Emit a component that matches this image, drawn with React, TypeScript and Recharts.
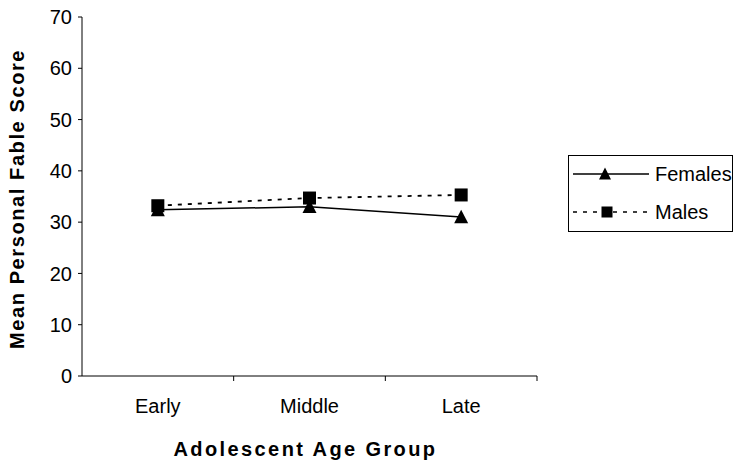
import { LineChart, Line, XAxis, YAxis } from 'recharts';

const ageGroups = ['Early', 'Middle', 'Late'];
const females = [32.4, 33.0, 31.0];
const males = [33.2, 34.7, 35.3];
const yTicks = [0, 10, 20, 30, 40, 50, 60, 70];
const seriesNames = ['Females', 'Males'];

const data = ageGroups.map((g, i) => ({ group: g, Females: females[i], Males: males[i] }));

const FONT = '"Liberation Sans", Arial, sans-serif';
const W = 742;
const H = 466;
const PLOT_LEFT = 82;
const PLOT_RIGHT = 537;
const BAND = (PLOT_RIGHT - PLOT_LEFT) / ageGroups.length;

function Triangle({ cx, cy, size = 14 }: { cx?: number; cy?: number; size?: number }) {
  if (cx == null || cy == null) return null;
  const h = size * 0.9;
  return (
    <path
      d={`M${cx},${cy - h / 2 - 1} L${cx + size / 2},${cy + h / 2} L${cx - size / 2},${cy + h / 2} Z`}
      fill="#000"
    />
  );
}

function Square({ cx, cy, size = 13 }: { cx?: number; cy?: number; size?: number }) {
  if (cx == null || cy == null) return null;
  return <rect x={cx - size / 2} y={cy - size / 2} width={size} height={size} fill="#000" />;
}

// category tick: label centred under the point, tick mark at the band edge
function XTick(props: any) {
  const { x, y, payload } = props;
  return (
    <g>
      <line x1={x + BAND / 2} x2={x + BAND / 2} y1={y - 8} y2={y - 3} stroke="#000" />
      <text x={x} y={y + 29} textAnchor="middle" fontSize={20} fontFamily={FONT} fill="#000">
        {payload.value}
      </text>
    </g>
  );
}

function Legend() {
  return (
    <div
      style={{
        position: 'absolute', left: 568, top: 155, width: 165, height: 77,
        border: '1px solid #000', boxSizing: 'border-box', fontFamily: FONT, fontSize: 20,
      }}
    >
      {seriesNames.map((name, i) => (
        <div key={name} style={{ position: 'absolute', left: 0, top: i === 0 ? 6 : 44, height: 24, display: 'flex', alignItems: 'center' }}>
          <svg width={86} height={24}>
            <line x1={4} x2={80} y1={12} y2={12} stroke="#000" strokeWidth={1.5}
              strokeDasharray={i === 0 ? undefined : '4 6'} />
            {i === 0 ? <Triangle cx={36} cy={12} size={12} /> : <Square cx={38} cy={12} size={11} />}
          </svg>
          <span>{name}</span>
        </div>
      ))}
    </div>
  );
}

export default function App() {
  return (
    <div style={{ position: 'absolute', left: 0, top: 0, width: W, height: H, background: '#fff' }}>
      <LineChart width={W} height={H} data={data} margin={{ top: 17, right: W - PLOT_RIGHT, bottom: 0, left: 0 }}>
        <XAxis
          dataKey="group"
          height={90}
          stroke="#000"
          tickLine={false}
          tick={<XTick />}
          interval={0}
          padding={{ left: BAND / 2, right: BAND / 2 }}
          label={{
            content: () => (
              <text x={(PLOT_LEFT + PLOT_RIGHT) / 2 - 4} y={456} textAnchor="middle" fontSize={20}
                fontWeight="bold" fontFamily={FONT} letterSpacing={2.4} fill="#000">
                Adolescent Age Group
              </text>
            ),
          }}
        />
        <YAxis
          width={PLOT_LEFT}
          domain={[0, 70]}
          ticks={yTicks}
          interval={0}
          stroke="#000"
          tickSize={4}
          tickMargin={6}
          tick={{ fill: '#000', fontSize: 20, fontFamily: FONT }}
          label={{
            content: () => (
              <text x={24} y={199} transform="rotate(-90, 24, 199)" textAnchor="middle" fontSize={20}
                fontWeight="bold" fontFamily={FONT} letterSpacing={1.6} fill="#000">
                Mean Personal Fable Score
              </text>
            ),
          }}
        />
        <Line dataKey="Females" stroke="#000" strokeWidth={1.5} isAnimationActive={false}
          dot={(p: any) => <Triangle key={`f${p.index}`} cx={p.cx} cy={p.cy} />} />
        <Line dataKey="Males" stroke="#000" strokeWidth={1.8} strokeDasharray="4 6" isAnimationActive={false}
          dot={(p: any) => <Square key={`m${p.index}`} cx={p.cx} cy={p.cy} />} />
      </LineChart>
      <Legend />
    </div>
  );
}
